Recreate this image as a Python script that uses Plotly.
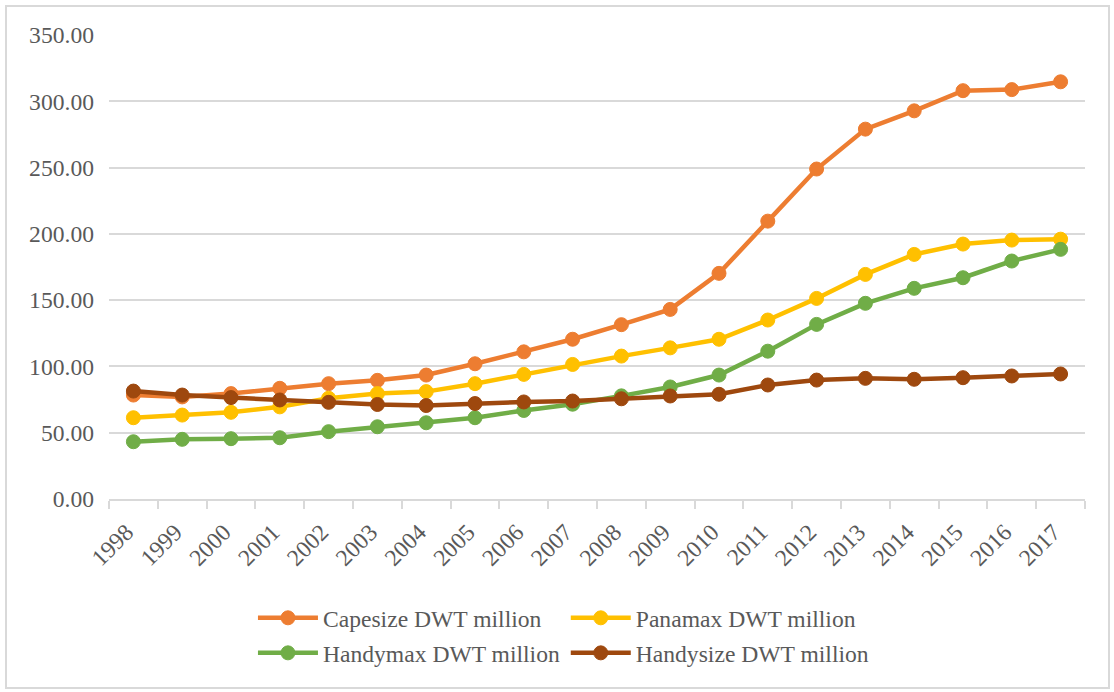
import plotly.graph_objects as go

years = [str(y) for y in range(1998, 2018)]

capesize = [78.4, 77.0, 79.5, 83.5, 87.0, 89.5, 93.5, 102.0, 111.0, 120.5, 131.5, 143.0,
            170.2, 209.6, 248.9, 279.0, 292.8, 308.0, 308.8, 314.7]
panamax = [61.3, 63.3, 65.4, 69.5, 76.0, 79.5, 81.0, 87.0, 94.0, 101.5, 107.8, 114.0,
           120.5, 135.0, 151.3, 169.4, 184.5, 192.3, 195.3, 196.0]
handymax = [43.2, 45.0, 45.5, 46.2, 50.8, 54.5, 57.5, 61.3, 66.8, 71.5, 77.8, 84.5,
            93.5, 111.5, 131.7, 147.6, 158.9, 166.9, 179.5, 188.3]
handysize = [81.4, 78.4, 76.5, 74.7, 72.9, 71.3, 70.5, 72.0, 73.2, 73.9, 75.6, 77.7,
             79.0, 86.0, 89.7, 91.0, 90.3, 91.5, 92.8, 94.3]

font_family = "Liberation Serif, Times New Roman, serif"
font_size = 23.6
grey = "#D9D9D9"
text_grey = "#595959"

# name, values, colour, legend id, legend x, legend y (two-column legend below the plot)
series = [
    ("Capesize DWT million", capesize, "#ED7D31", "legend", 0.1475, -0.2090),
    ("Panamax DWT million", panamax, "#FFC000", "legend2", 0.468, -0.2090),
    ("Handymax DWT million", handymax, "#70AD47", "legend3", 0.1475, -0.2845),
    ("Handysize DWT million", handysize, "#9E480E", "legend4", 0.468, -0.2845),
]

fig = go.Figure()
legends = {}
for name, values, color, leg, lx, ly in series:
    fig.add_trace(go.Scatter(
        x=years, y=values, name=name, mode="lines+markers", legend=leg,
        line=dict(color=color, width=4.5),
        marker=dict(color=color, size=14, line=dict(color=color, width=1)),
    ))
    legends[leg] = dict(
        x=lx, y=ly, xanchor="left", yanchor="top", itemwidth=60,
        font=dict(family=font_family, size=font_size, color=text_grey),
        bgcolor="rgba(0,0,0,0)",
    )

fig.update_layout(
    width=1114, height=692,
    margin=dict(l=109, r=29, t=35, b=193, autoexpand=False),
    paper_bgcolor="white", plot_bgcolor="white",
    font=dict(family=font_family, size=font_size, color=text_grey),
    showlegend=True,
    xaxis=dict(
        type="category", range=[-0.5, 19.5], tickson="boundaries",
        showgrid=False, showline=True, linecolor=grey, linewidth=2,
        ticks="outside", ticklen=8, tickwidth=2, tickcolor=grey,
        tickangle=-45, ticklabelstandoff=8, ticklabelshift=-7,
        tickfont=dict(family=font_family, size=font_size, color=text_grey),
        zeroline=False,
    ),
    yaxis=dict(
        range=[0, 350], dtick=50, tickformat=".2f",
        showgrid=True, gridcolor=grey, gridwidth=2,
        zeroline=False, showline=False, ticks="",
        ticklabelstandoff=14,
        tickfont=dict(family=font_family, size=font_size, color=text_grey),
    ),
    shapes=[dict(
        type="rect", xref="paper", yref="paper",
        x0=(6 - 109) / 976, x1=(1109 - 109) / 976,
        y0=(499 - 688) / 464, y1=(499 - 6) / 464,
        line=dict(color=grey, width=2), fillcolor="rgba(0,0,0,0)", layer="below",
    )],
    **legends,
)

fig.write_html("out.html")
